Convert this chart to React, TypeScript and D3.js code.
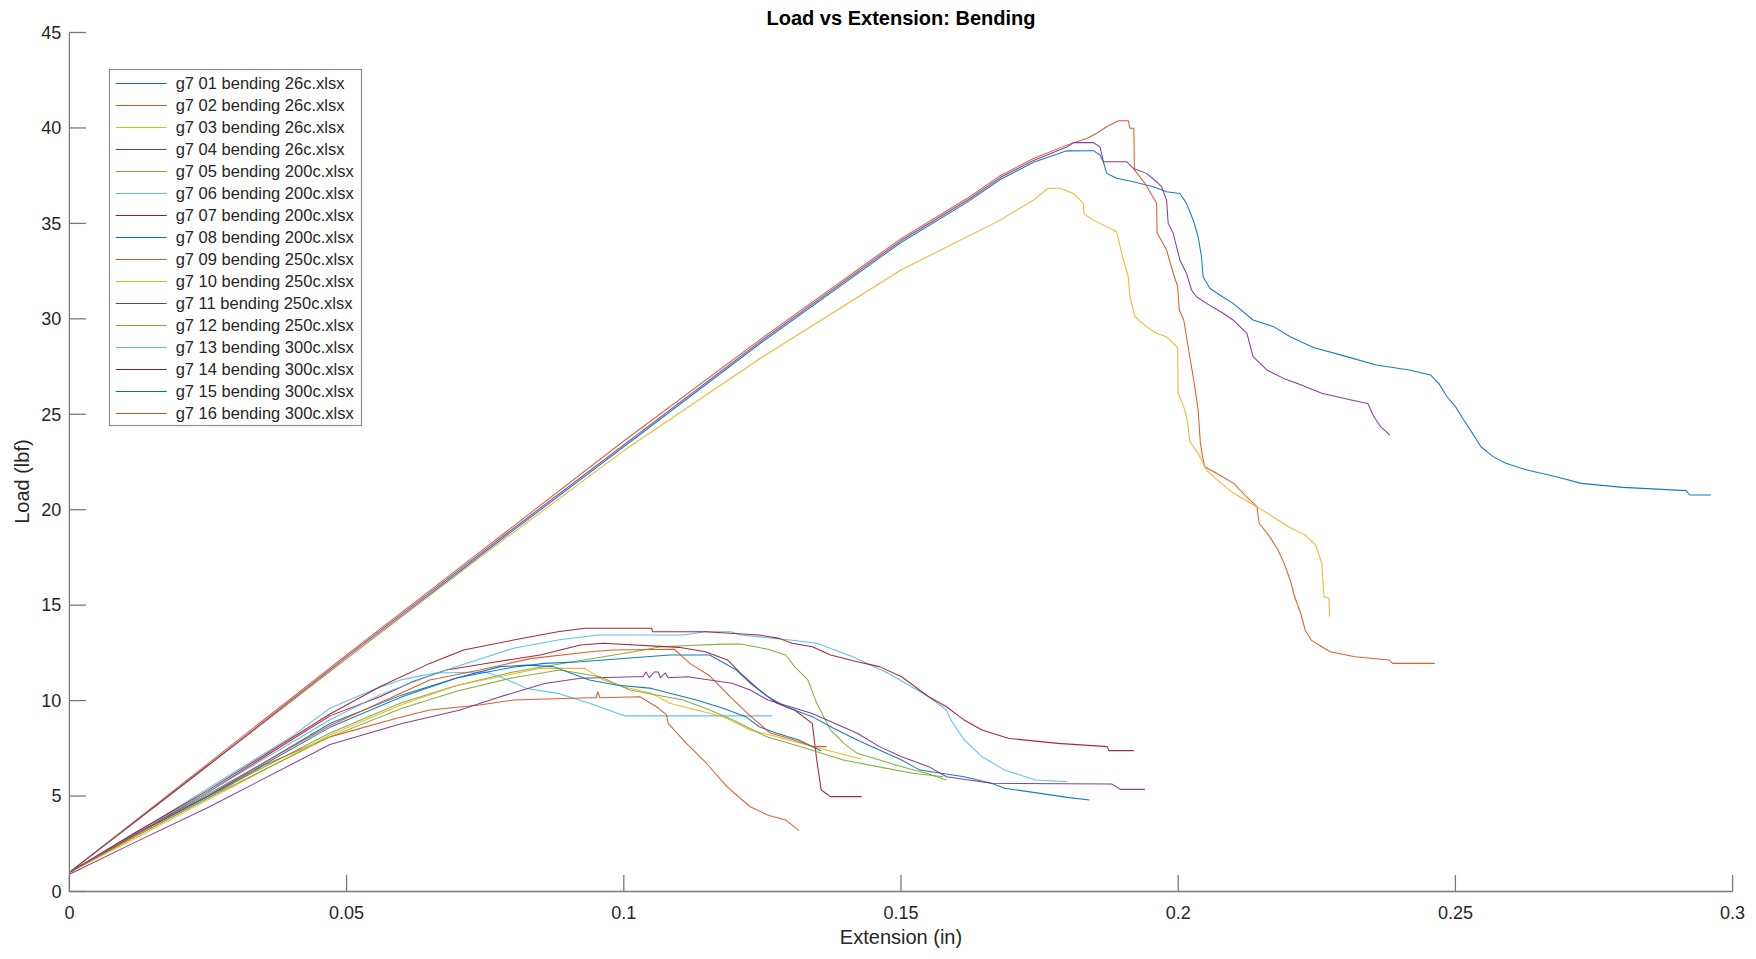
import React from "react";
import * as d3 from "d3";

type P = [number, number];

const seriesNames = [
  "g7 01 bending 26c.xlsx", "g7 02 bending 26c.xlsx", "g7 03 bending 26c.xlsx", "g7 04 bending 26c.xlsx",
  "g7 05 bending 200c.xlsx", "g7 06 bending 200c.xlsx", "g7 07 bending 200c.xlsx", "g7 08 bending 200c.xlsx",
  "g7 09 bending 250c.xlsx", "g7 10 bending 250c.xlsx", "g7 11 bending 250c.xlsx", "g7 12 bending 250c.xlsx",
  "g7 13 bending 300c.xlsx", "g7 14 bending 300c.xlsx", "g7 15 bending 300c.xlsx", "g7 16 bending 300c.xlsx",
];

const palette = ["#0072BD", "#D95319", "#EDB120", "#7E2F8E", "#77AC30", "#4DBEEE", "#A2142F"];

const xTicks = [0, 0.05, 0.1, 0.15, 0.2, 0.25, 0.3];
const yTicks = [0, 5, 10, 15, 20, 25, 30, 35, 40, 45];

const s01: P[] = [[0,1.0],[0.025,6.6],[0.05,12.2],[0.075,17.8],[0.1,23.3],[0.125,28.8],[0.15,34.0],[0.1619,36.1],[0.1679,37.3],[0.1739,38.2],[0.1799,38.8],[0.1847,38.81],[0.1859,38.58],[0.1865,38.23],[0.1871,37.62],[0.1889,37.36],[0.1919,37.18],[0.1955,36.92],[0.1979,36.66],[0.2003,36.57],[0.2015,36.05],[0.2027,35.18],[0.2036,34.3],[0.2042,33.25],[0.2045,32.2],[0.2057,31.6],[0.2075,31.25],[0.2099,30.81],[0.2135,29.94],[0.2172,29.59],[0.2202,29.06],[0.2244,28.5],[0.2304,28.02],[0.2357,27.58],[0.2417,27.32],[0.2455,27.06],[0.247,26.62],[0.2485,25.92],[0.25,25.4],[0.2515,24.7],[0.2531,24.0],[0.2546,23.3],[0.2568,22.78],[0.2591,22.43],[0.2629,22.08],[0.2682,21.73],[0.2727,21.38],[0.2802,21.17],[0.2916,21.0],[0.2923,20.77],[0.2961,20.77]];
const s02: P[] = [[0,1.0],[0.025,6.7],[0.05,12.4],[0.075,18.0],[0.1,23.6],[0.125,29.0],[0.15,34.2],[0.1619,36.3],[0.1679,37.5],[0.1739,38.4],[0.1799,39.1],[0.1835,39.45],[0.1853,39.72],[0.1871,40.06],[0.1892,40.38],[0.191,40.38],[0.1913,39.98],[0.192,39.98],[0.1921,37.8],[0.194,37.1],[0.1961,36.05],[0.1962,34.5],[0.1979,33.6],[0.1991,32.4],[0.1999,31.7],[0.2002,30.46],[0.201,29.94],[0.2021,28.0],[0.2029,26.62],[0.2036,25.22],[0.204,23.48],[0.2044,22.78],[0.2048,22.25],[0.207,21.9],[0.21,21.38],[0.2123,20.68],[0.2142,20.16],[0.2146,19.29],[0.2165,18.59],[0.218,17.89],[0.2191,17.19],[0.2202,16.32],[0.221,15.44],[0.2221,14.57],[0.2229,13.7],[0.224,13.17],[0.2259,12.82],[0.2274,12.56],[0.2319,12.3],[0.238,12.13],[0.2387,11.95],[0.2463,11.95]];
const s03: P[] = [[0,1.0],[0.025,6.6],[0.05,12.2],[0.075,17.7],[0.1,23.1],[0.125,28.0],[0.15,32.56],[0.1679,35.17],[0.1739,36.22],[0.1765,36.84],[0.1787,36.84],[0.1811,36.57],[0.1829,36.05],[0.183,35.5],[0.1847,35.17],[0.1871,34.83],[0.1889,34.56],[0.1898,33.43],[0.191,32.2],[0.1913,31.16],[0.1922,30.11],[0.1943,29.59],[0.1961,29.24],[0.1979,29.06],[0.1999,28.5],[0.2,26.1],[0.201,25.4],[0.2017,24.6],[0.2021,23.56],[0.2036,22.95],[0.2051,22.08],[0.207,21.56],[0.21,20.86],[0.2131,20.34],[0.2161,19.81],[0.2199,19.11],[0.2229,18.67],[0.2248,18.15],[0.2259,17.19],[0.2263,15.44],[0.2272,15.36],[0.2273,14.4]];
const s04: P[] = [[0,1.0],[0.025,6.6],[0.05,12.3],[0.075,17.9],[0.1,23.4],[0.125,28.9],[0.15,34.1],[0.1619,36.2],[0.1679,37.4],[0.1739,38.3],[0.1799,39.0],[0.1811,39.23],[0.1847,39.23],[0.1859,39.0],[0.1865,38.23],[0.1907,38.23],[0.1919,37.88],[0.1943,37.62],[0.1961,37.18],[0.197,36.92],[0.1979,36.22],[0.1982,35.0],[0.1991,34.48],[0.2003,33.08],[0.2015,32.38],[0.2024,31.51],[0.2033,31.16],[0.2051,30.81],[0.2081,30.29],[0.2099,29.94],[0.2124,29.24],[0.2135,28.02],[0.216,27.32],[0.219,26.88],[0.2214,26.62],[0.2259,26.1],[0.2312,25.75],[0.2342,25.57],[0.2353,24.87],[0.2365,24.35],[0.2382,23.91]];
const s05: P[] = [[0,1.0],[0.012,3.0],[0.025,5.0],[0.047,8.3],[0.06,9.9],[0.07,10.8],[0.08,11.5],[0.09,12.0],[0.1018,12.56],[0.1067,12.82],[0.1179,12.96],[0.1211,12.96],[0.126,12.69],[0.1292,12.39],[0.1308,11.78],[0.1332,11.08],[0.1348,9.86],[0.1373,8.46],[0.1397,7.76],[0.1421,7.24],[0.1501,6.54],[0.1546,6.19],[0.1582,5.84]];
const s06: P[] = [[0,1.0],[0.01,2.7],[0.02,4.5],[0.03,6.3],[0.04,8.1],[0.047,9.6],[0.055,10.6],[0.06,11.1],[0.066,11.45],[0.075,11.5],[0.0777,11.25],[0.0825,10.64],[0.0881,10.38],[0.0938,9.86],[0.1002,9.2],[0.1268,9.2]];
const s07: P[] = [[0,1.0],[0.012,3.0],[0.025,5.2],[0.047,9.2],[0.056,10.2],[0.062,11.0],[0.068,11.6],[0.0771,12.04],[0.0849,12.39],[0.0922,12.91],[0.0962,13.0],[0.1099,12.79],[0.1147,12.56],[0.1187,12.13],[0.1211,11.43],[0.1244,10.56],[0.1276,9.86],[0.1308,9.51],[0.134,8.81],[0.1348,6.89],[0.1356,5.32],[0.1373,4.97],[0.1429,4.97]];
const s08: P[] = [[0,1.0],[0.012,3.0],[0.025,5.0],[0.047,8.8],[0.06,10.3],[0.07,11.2],[0.08,11.75],[0.0857,11.95],[0.0922,12.04],[0.1083,12.39],[0.1155,12.39],[0.1171,12.13],[0.1203,11.6],[0.1228,10.91],[0.126,10.2],[0.1292,9.68],[0.134,9.16],[0.1373,8.63],[0.1421,7.94],[0.1461,7.41],[0.1501,6.89],[0.1534,6.36],[0.1614,6.01],[0.1663,5.67],[0.1687,5.41],[0.1751,5.14],[0.18,4.93],[0.184,4.79]];
const s09: P[] = [[0,1.0],[0.012,2.9],[0.025,4.9],[0.035,6.6],[0.047,8.1],[0.059,9.07],[0.065,9.51],[0.074,9.77],[0.0801,10.03],[0.0939,10.15],[0.095,10.15],[0.0953,10.45],[0.0957,10.15],[0.1029,10.2],[0.1059,9.68],[0.1077,9.25],[0.108,8.81],[0.1113,7.76],[0.1149,6.72],[0.1186,5.49],[0.1228,4.44],[0.126,4.0],[0.1292,3.75],[0.1316,3.19]];
const s10: P[] = [[0,1.0],[0.012,2.8],[0.025,4.8],[0.047,8.2],[0.06,9.8],[0.07,10.8],[0.08,11.4],[0.085,11.69],[0.093,11.69],[0.0963,11.08],[0.0999,10.73],[0.105,10.38],[0.1083,9.86],[0.1131,9.51],[0.1179,9.16],[0.1228,8.46],[0.1276,8.11],[0.134,7.59],[0.1429,6.94]];
const s11: P[] = [[0,0.9],[0.012,2.6],[0.025,4.4],[0.047,7.7],[0.06,8.8],[0.0703,9.5],[0.0777,10.2],[0.0857,10.9],[0.0922,11.17],[0.1018,11.25],[0.1035,11.25],[0.104,11.5],[0.1046,11.2],[0.1055,11.5],[0.1062,11.5],[0.1066,11.2],[0.1075,11.45],[0.108,11.2],[0.1115,11.25],[0.1195,10.91],[0.1228,10.56],[0.126,10.03],[0.134,9.33],[0.1421,8.29],[0.1461,7.59],[0.1501,7.06],[0.155,6.54],[0.1582,6.01],[0.1663,5.67],[0.188,5.63],[0.1896,5.35],[0.194,5.35]];
const s12: P[] = [[0,1.0],[0.012,2.9],[0.025,4.9],[0.047,8.1],[0.06,9.6],[0.07,10.5],[0.08,11.2],[0.0885,11.6],[0.0957,11.25],[0.1011,10.56],[0.1107,10.03],[0.1155,9.51],[0.1197,8.98],[0.1258,8.11],[0.1318,7.59],[0.1396,6.89],[0.1474,6.45],[0.1522,6.19],[0.1576,6.01]];
const s13: P[] = [[0,1.0],[0.012,3.1],[0.025,5.2],[0.047,9.0],[0.056,10.3],[0.065,11.3],[0.0711,11.9],[0.0801,12.74],[0.0881,13.17],[0.0954,13.44],[0.1107,13.44],[0.1147,13.61],[0.1193,13.61],[0.1211,13.44],[0.13,13.17],[0.1348,13.0],[0.1413,12.3],[0.1477,11.43],[0.155,10.2],[0.1582,9.51],[0.159,8.98],[0.1614,7.94],[0.1646,7.06],[0.1687,6.36],[0.1743,5.84],[0.18,5.75]];
const s14: P[] = [[0,1.0],[0.012,3.1],[0.025,5.3],[0.047,9.3],[0.056,10.73],[0.065,11.95],[0.0711,12.65],[0.0801,13.17],[0.0881,13.61],[0.093,13.79],[0.105,13.79],[0.1052,13.61],[0.1147,13.61],[0.1244,13.44],[0.128,13.26],[0.1304,13.0],[0.134,12.82],[0.1373,12.39],[0.1421,12.04],[0.1461,11.78],[0.1501,11.25],[0.155,10.2],[0.1582,9.68],[0.1614,8.98],[0.1646,8.46],[0.1695,8.02],[0.1783,7.76],[0.1872,7.59],[0.1875,7.38],[0.192,7.38]];
const s15: P[] = [[0,1.0],[0.012,3.0],[0.025,5.0],[0.047,8.6],[0.06,10.2],[0.07,11.2],[0.0777,11.78],[0.0825,11.86],[0.0873,11.78],[0.0905,11.43],[0.0938,11.08],[0.0986,10.82],[0.105,10.64],[0.1083,10.38],[0.1131,10.03],[0.1179,9.6],[0.122,9.16],[0.1244,8.63],[0.1276,8.29],[0.1316,7.94],[0.1356,7.36]];
const s16: P[] = [[0,1.0],[0.012,3.0],[0.025,5.1],[0.047,8.7],[0.065,11.08],[0.074,11.6],[0.0831,12.2],[0.094,12.56],[0.0981,12.65],[0.1091,12.69],[0.1119,11.95],[0.1155,11.3],[0.1192,10.2],[0.1228,9.2],[0.1264,8.3],[0.13,8.0],[0.1342,7.59],[0.1366,7.59]];

const allSeries: P[][] = [s01, s02, s03, s04, s05, s06, s07, s08, s09, s10, s11, s12, s13, s14, s15, s16];

const W = 1756;
const H = 959;
const FONT = "'Liberation Sans', Arial, Helvetica, sans-serif";

export default function App() {
  const x = d3.scaleLinear().domain([0, 0.3]).range([69.4, 1732.6]);
  const y = d3.scaleLinear().domain([0, 45]).range([891.5, 32.5]);
  const line = d3.line<P>().x((d) => x(d[0])).y((d) => y(d[1]));
  const axisColor = "#7a7a7a";
  const textColor = "#262626";
  const tickLen = 16.6;
  const fmt = (v: number) => String(+v.toFixed(2));

  const legX = 109.5, legY = 69.5, legW = 252, legH = 356, rowH = 22;

  return (
    <svg width={W} height={H} style={{ position: "absolute", left: 0, top: 0, background: "#fff" }} fontFamily={FONT}>
      <rect x={0} y={0} width={W} height={H} fill="#fff" />
      <g fill="none" strokeWidth={1.05} strokeLinejoin="round" strokeOpacity={0.92}>
        {allSeries.map((s, i) => (
          <path key={i} d={line(s) || ""} stroke={palette[i % palette.length]} />
        ))}
      </g>
      <g stroke={axisColor} strokeWidth={1.3}>
        <line x1={x(0)} x2={x(0.3)} y1={y(0)} y2={y(0)} />
        <line x1={x(0)} x2={x(0)} y1={y(0)} y2={y(45)} />
        {xTicks.map((t) => (
          <line key={"xt" + t} x1={x(t)} x2={x(t)} y1={y(0)} y2={y(0) - tickLen} />
        ))}
        {yTicks.map((t) => (
          <line key={"yt" + t} x1={x(0)} x2={x(0) + tickLen} y1={y(t)} y2={y(t)} />
        ))}
      </g>
      <g fill={textColor} fontSize={18}>
        {xTicks.map((t) => (
          <text key={"xl" + t} x={x(t)} y={y(0) + 27} textAnchor="middle">{fmt(t)}</text>
        ))}
        {yTicks.map((t) => (
          <text key={"yl" + t} x={x(0) - 8} y={y(t) + 6.3} textAnchor="end">{fmt(t)}</text>
        ))}
      </g>
      <text x={901} y={944} textAnchor="middle" fontSize={20} fill={textColor}>Extension (in)</text>
      <text transform={`translate(29,481.6) rotate(-90)`} textAnchor="middle" fontSize={20} fill={textColor}>Load (lbf)</text>
      <text x={901} y={25} textAnchor="middle" fontSize={20} fontWeight="bold" fill="#000">Load vs Extension: Bending</text>
      <g>
        <rect x={legX} y={legY} width={legW} height={legH} fill="#fff" stroke="#8c8c8c" strokeWidth={1.2} />
        {seriesNames.map((n, i) => {
          const cy = legY + 14 + i * rowH;
          return (
            <g key={n}>
              <line x1={115.7} x2={166.7} y1={cy} y2={cy} stroke={palette[i % palette.length]} strokeWidth={1.2} />
              <text x={175.7} y={cy + 5.8} fontSize={16.5} fill={textColor}>{n}</text>
            </g>
          );
        })}
      </g>
    </svg>
  );
}
